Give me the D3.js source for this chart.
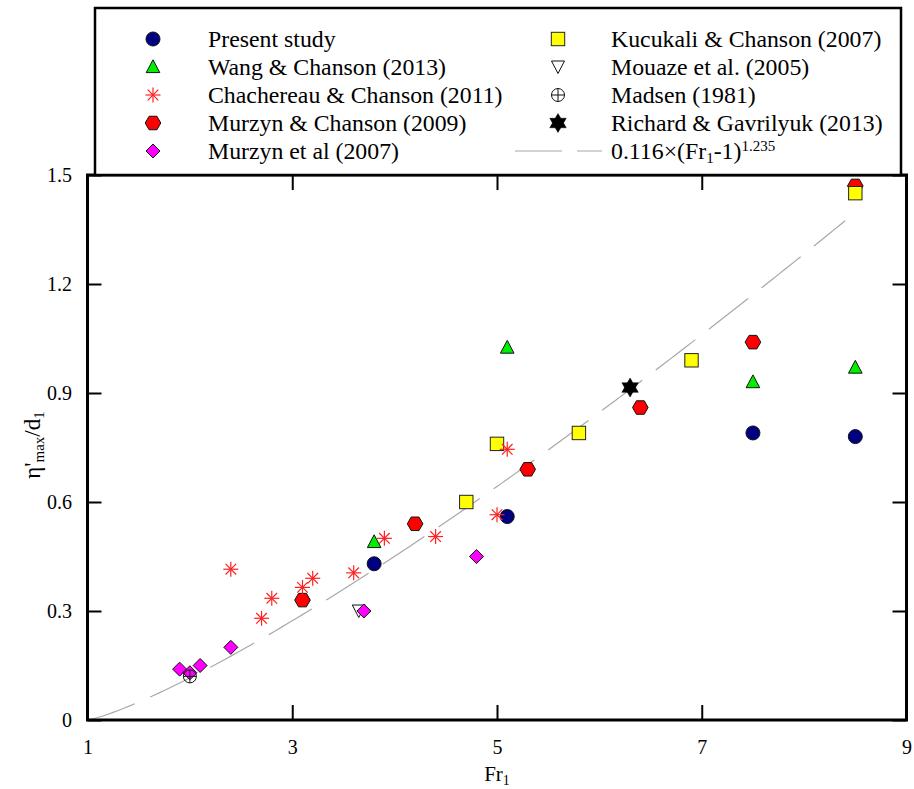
<!DOCTYPE html>
<html>
<head>
<meta charset="utf-8">
<script src="https://cdn.jsdelivr.net/npm/d3@7"></script>
<style>
  html, body { margin: 0; padding: 0; background: #fff; }
  svg { display: block; }
  svg text { font-family: "Liberation Serif", "Times New Roman", serif !important; fill: #000; }
</style>
</head>
<body>
<svg id="chart" width="914" height="789"></svg>
<script>
// ---------- data ----------
const xTicks = [1, 3, 5, 7, 9];
const yTicks = [0, 0.3, 0.6, 0.9, 1.2, 1.5];
const yTickLabels = ["0", "0.3", "0.6", "0.9", "1.2", "1.5"];

const presentFr = [3.8, 5.1, 7.5, 8.5];
const presentEta = [0.43, 0.56, 0.79, 0.78];

const wangFr = [3.8, 5.1, 7.5, 8.5];
const wangEta = [0.49, 1.025, 0.93, 0.97];

const chachFr = [2.4, 2.7, 2.8, 3.1, 3.2, 3.6, 3.9, 4.4, 5.0, 5.1];
const chachEta = [0.415, 0.28, 0.335, 0.365, 0.39, 0.405, 0.50, 0.505, 0.565, 0.745];

const murzynChFr = [3.1, 4.2, 5.3, 6.4, 7.5, 8.5];
const murzynChEta = [0.33, 0.54, 0.69, 0.86, 1.04, 1.47];

const murzyn07Fr = [1.9, 2.0, 2.1, 2.4, 3.7, 4.8];
const murzyn07Eta = [0.14, 0.13, 0.15, 0.20, 0.30, 0.45];

const kucukaliFr = [4.7, 5.0, 5.8, 6.9, 8.5];
const kucukaliEta = [0.60, 0.76, 0.79, 0.99, 1.45];

const mouazeFr = [3.65];
const mouazeEta = [0.30];

const madsenFr = [2.0];
const madsenEta = [0.12];

const richardFr = [6.3];
const richardEta = [0.915];

// fitted correlation eta/d1 = a*(Fr1-1)^b, drawn over the range shown
const fitA = 0.116, fitB = 1.235;
const fitFrStart = 1.0, fitFrEnd = 8.4;

const legendLabels = [
  "Present study", "Wang & Chanson (2013)", "Chachereau & Chanson (2011)",
  "Murzyn & Chanson (2009)", "Murzyn et al (2007)",
  "Kucukali & Chanson (2007)", "Mouaze et al. (2005)", "Madsen (1981)",
  "Richard & Gavrilyuk (2013)", "fit"
];

// ---------- layout ----------
const svg = d3.select("#chart");
const L = 87.5, R = 906.5, T = 175, B = 720;
const x = d3.scaleLinear().domain([1, 9]).range([L, R]);
const y = d3.scaleLinear().domain([0, 1.5]).range([B, T]);

const zip = (a, b) => a.map((v, i) => [v, b[i]]);

// ---------- marker painters ----------
function hexPath(r) {
  const pts = d3.range(6).map(i => [r * Math.cos(i * Math.PI / 3), r * Math.sin(i * Math.PI / 3)]);
  return "M" + pts.map(p => p.join(",")).join("L") + "Z";
}
function starPath(r) {
  const t = (a) => [0, 1, 2].map(i => {
    const ang = a + i * 2 * Math.PI / 3;
    return [r * Math.sin(ang), -r * Math.cos(ang)];
  });
  const p1 = t(0), p2 = t(Math.PI);
  return "M" + p1.map(p => p.join(",")).join("L") + "Z" + "M" + p2.map(p => p.join(",")).join("L") + "Z";
}
const painters = {
  circle: (g) => g.append("circle").attr("r", 7).attr("fill", "#000080").attr("stroke", "#111").attr("stroke-width", 1),
  triUp: (g) => g.append("path").attr("d", "M0,-7.2L6.8,5.6L-6.8,5.6Z").attr("fill", "#00ee00").attr("stroke", "#111").attr("stroke-width", 1),
  asterisk: (g) => {
    const r = 7.5;
    [0, 45, 90, 135].forEach(a => {
      const c = Math.cos(a * Math.PI / 180) * r, s = Math.sin(a * Math.PI / 180) * r;
      g.append("line").attr("x1", -c).attr("y1", -s).attr("x2", c).attr("y2", s)
        .attr("stroke", "#ff2020").attr("stroke-width", 1.2);
    });
  },
  hexagon: (g) => g.append("path").attr("d", hexPath(7.8)).attr("fill", "#ff0000").attr("stroke", "#111").attr("stroke-width", 1),
  diamond: (g) => g.append("path").attr("d", "M0,-7L7,0L0,7L-7,0Z").attr("fill", "#ff00ff").attr("stroke", "#111").attr("stroke-width", 1),
  square: (g) => g.append("rect").attr("x", -6.7).attr("y", -6.7).attr("width", 13.4).attr("height", 13.4).attr("fill", "#ffff00").attr("stroke", "#222").attr("stroke-width", 1),
  triDown: (g) => g.append("path").attr("d", "M-6.5,-6L6.5,-6L0,6.5Z").attr("fill", "#fff").attr("stroke", "#111").attr("stroke-width", 1),
  madsen: (g) => {
    g.append("circle").attr("r", 6.5).attr("fill", "none").attr("stroke", "#111").attr("stroke-width", 1);
    g.append("line").attr("x1", -6.5).attr("x2", 6.5).attr("y1", 0).attr("y2", 0).attr("stroke", "#111").attr("stroke-width", 1);
    g.append("line").attr("y1", -6.5).attr("y2", 6.5).attr("x1", 0).attr("x2", 0).attr("stroke", "#111").attr("stroke-width", 1);
  },
  star: (g) => g.append("path").attr("d", starPath(9.5)).attr("fill", "#000").attr("stroke", "#000").attr("stroke-width", 0.5)
};

// ---------- fit line ----------
const fitPts = d3.range(fitFrStart, fitFrEnd + 1e-9, 0.05).map(f => [f, fitA * Math.pow(f - 1, fitB)]);
svg.append("path")
  .datum(fitPts)
  .attr("d", d3.line().x(d => x(d[0])).y(d => y(d[1])))
  .attr("fill", "none")
  .attr("stroke", "#a8a8a8")
  .attr("stroke-width", 1.2)
  .attr("stroke-dasharray", "50,17");

// ---------- points ----------
const series = [
  { fr: presentFr, eta: presentEta, m: "circle" },
  { fr: wangFr, eta: wangEta, m: "triUp" },
  { fr: murzynChFr, eta: murzynChEta, m: "hexagon" },
  { fr: mouazeFr, eta: mouazeEta, m: "triDown" },
  { fr: murzyn07Fr, eta: murzyn07Eta, m: "diamond" },
  { fr: kucukaliFr, eta: kucukaliEta, m: "square" },
  { fr: chachFr, eta: chachEta, m: "asterisk" },
  { fr: madsenFr, eta: madsenEta, m: "madsen" },
  { fr: richardFr, eta: richardEta, m: "star" }
];
const ptsG = svg.append("g");
series.forEach(s => {
  zip(s.fr, s.eta).forEach(d => {
    const g = ptsG.append("g").attr("transform", `translate(${x(d[0])},${y(d[1])})`);
    painters[s.m](g);
  });
});

// ---------- axes ----------
const fontSize = 20;
const ax = svg.append("g");
const axB = ax.append("g").attr("transform", `translate(0,${B})`)
  .call(d3.axisBottom(x).tickValues(xTicks).tickFormat(d3.format("d")).tickSizeInner(-15).tickSizeOuter(0).tickPadding(20));
const axT = ax.append("g").attr("transform", `translate(0,${T})`)
  .call(d3.axisTop(x).tickValues(xTicks).tickFormat("").tickSizeInner(-15).tickSizeOuter(0));
const axL = ax.append("g").attr("transform", `translate(${L},0)`)
  .call(d3.axisLeft(y).tickValues(yTicks).tickFormat((d, i) => yTickLabels[i]).tickSizeInner(-14).tickSizeOuter(0).tickPadding(15.5));
const axR = ax.append("g").attr("transform", `translate(${R},0)`)
  .call(d3.axisRight(y).tickValues(yTicks).tickFormat("").tickSizeInner(-14).tickSizeOuter(0));
[axB, axT, axL, axR].forEach(g => {
  g.attr("font-family", null).attr("font-size", null);
  g.select(".domain").remove();
  g.selectAll(".tick line").attr("stroke", "#000").attr("stroke-width", 2);
  g.selectAll("text").style("font-family", "'Liberation Serif', serif").style("font-size", fontSize + "px").attr("fill", "#000");
});

// frame
svg.append("rect").attr("x", L).attr("y", T).attr("width", R - L).attr("height", B - T)
  .attr("fill", "none").attr("stroke", "#000").attr("stroke-width", 3);

// axis titles
const xt = svg.append("text").attr("x", x(5)).attr("y", 781).attr("text-anchor", "middle").attr("font-size", 21);
xt.append("tspan").text("Fr");
xt.append("tspan").attr("font-size", 14).attr("dy", 4).text("1");

const yt = svg.append("text").attr("transform", `translate(40,445) rotate(-90)`).attr("text-anchor", "middle").attr("font-size", 23);
yt.append("tspan").text("η'");
yt.append("tspan").attr("font-size", 15).attr("dy", 4).text("max");
yt.append("tspan").attr("dy", -4).text("/d");
yt.append("tspan").attr("font-size", 15).attr("dy", 4).text("1");

// ---------- legend ----------
const leg = svg.append("g");
leg.append("rect").attr("x", 95).attr("y", 8).attr("width", 806).attr("height", T - 8)
  .attr("fill", "#fff").attr("stroke", "#000").attr("stroke-width", 2.5);
const legMarkers = ["circle", "triUp", "asterisk", "hexagon", "diamond", "square", "triDown", "madsen", "star", "line"];
const legFont = 23.8;
legMarkers.forEach((m, i) => {
  const col = i < 5 ? 0 : 1;
  const row = i % 5;
  const cy = 39 + row * 28;
  const mx = col === 0 ? 153 : 558;
  const tx = col === 0 ? 208 : 611;
  if (m === "line") {
    leg.append("line").attr("x1", 515).attr("x2", 602).attr("y1", cy).attr("y2", cy)
      .attr("stroke", "#a8a8a8").attr("stroke-width", 1.2).attr("stroke-dasharray", "47,15");
    const t = leg.append("text").attr("x", tx).attr("y", cy + 8).attr("font-size", legFont);
    t.append("tspan").text(`${fitA}×(Fr`);
    t.append("tspan").attr("font-size", 15).attr("dy", 4).text("1");
    t.append("tspan").attr("dy", -4).text("-1)");
    t.append("tspan").attr("font-size", 15).attr("dy", -8.5).text(`${fitB}`);
  } else {
    const g = leg.append("g").attr("transform", `translate(${mx},${cy})`);
    painters[m](g);
    leg.append("text").attr("x", tx).attr("y", cy + 8).attr("font-size", legFont).text(legendLabels[i]);
  }
});
</script>
</body>
</html>
